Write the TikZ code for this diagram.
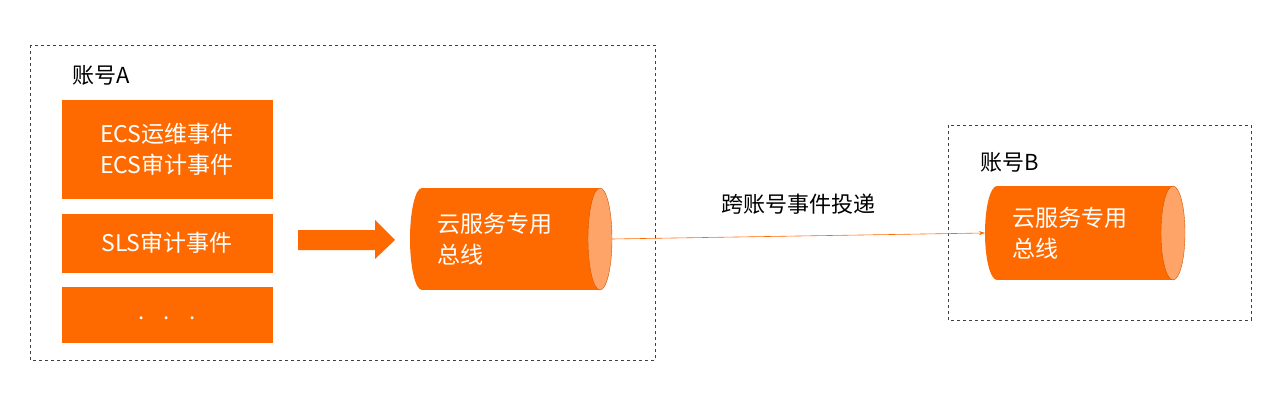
\documentclass[tikz,border=0pt]{standalone}
\usepackage{fontspec}
\setmainfont{Noto Sans CJK SC}
\usetikzlibrary{arrows.meta}
\definecolor{org}{HTML}{FF6A00}
\definecolor{lorg}{HTML}{FFA468}
\tikzset{
  dbox/.style={draw=black!75, dashed, line width=0.8pt},
  ebox/.style={fill=org, draw=org, text=white, font=\fontsize{23}{31}\selectfont, align=center, inner sep=0},
  lbl/.style={font=\fontsize{22}{24}\selectfont, anchor=west, inner sep=0},
}
\newcommand{\cyl}[6]{% name x1 x2 top bottom text
  \pgfmathsetmacro{\cy}{(#4+#5)/2}\pgfmathsetmacro{\ry}{(#5-#4)/2}
  \fill[org] (#2+12,#4) rectangle (#3-12,#5);
  \fill[org] (#2+12,\cy) ellipse[x radius=12,y radius=\ry];
  \fill[lorg] (#3-12,\cy) ellipse[x radius=12,y radius=\ry];
  \draw[org!80!black, line width=0.4pt] (#3-12,\cy) ellipse[x radius=12,y radius=\ry];
  \coordinate (#1w) at (#2,\cy); \coordinate (#1e) at (#3,\cy);
  \node[font=\fontsize{23}{31}\selectfont, text=white, align=left, anchor=west, inner sep=0] (#1t) at (#2+27,\cy) {#6};
}
\begin{document}
\begin{tikzpicture}[x=1pt,y=-1pt]
\useasboundingbox (0,0) rectangle (1284,414);
\draw[dbox] (30,45) rectangle (655,360);
\node[lbl] (la) at (72,75) {账号A};
\node[ebox, minimum width=210pt, minimum height=98pt] (b1) at (167,149) {ECS运维事件\\ECS审计事件};
\node[ebox, minimum width=210pt, minimum height=58pt] (b2) at (167,243) {SLS审计事件};
\node[ebox, minimum width=210pt, minimum height=55pt] (b3) at (167,314.5) {};
\node[text=white, font=\fontsize{22}{24}\selectfont] (dots) at (167,318) {.\hspace{0.9em}.\hspace{0.9em}.};
\fill[org] (298,230) -- (375,230) -- (375,220) -- (395,240) -- (375,259) -- (375,250) -- (298,250) -- cycle;
\cyl{c1}{410}{612}{188}{290}{云服务专用\\总线}
\draw[dbox] (948,125) rectangle (1251,320);
\node[lbl] (lb) at (980,162) {账号B};
\cyl{c2}{985}{1185}{186}{280}{云服务专用\\总线}
\draw[org, line width=0.6pt, -{Stealth[length=6pt,width=4pt]}] (c1e) -- (c2w) node[midway, above=18pt, text=black, font=\fontsize{22}{24}\selectfont] (tl) {跨账号事件投递};
\end{tikzpicture}
\end{document}
